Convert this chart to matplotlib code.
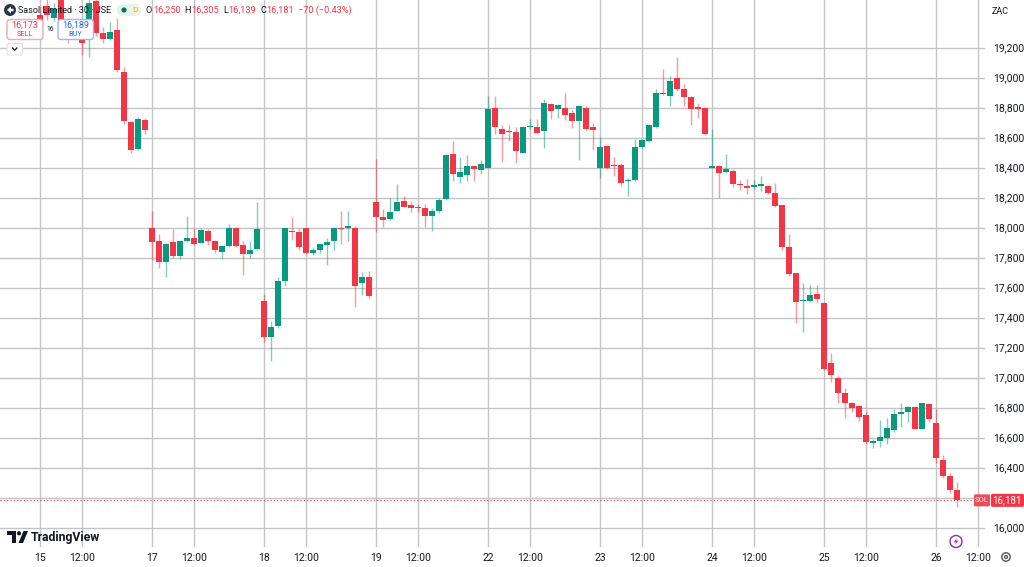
import numpy as np
import matplotlib
matplotlib.use("Agg")
import matplotlib.pyplot as plt
from matplotlib.patches import FancyBboxPatch, Circle, Polygon

plt.rcParams['font.family'] = ['Roboto', 'DejaVu Sans']

# ---------------- data ----------------
day_labels = ["15", "17", "18", "19", "22", "23", "24", "25", "26"]
intraday_label = "12:00"

opens = [
    # 15
    19420, 19480, 19400, 19530, 19340, 19280, 19256, 19250, 19507, 19300, 19258, 19318, 19040, 18702, 18524, 18718,
    # 17
    18000, 17907, 17771, 17902, 17811, 17911, 17933, 17900, 17980, 17911, 17840, 17876, 18000, 17884, 17824, 17860,
    # 18
    17507, 17269, 17344, 17644, 17980, 17973, 18000, 17833, 17847, 17884, 17913, 17998, 17998, 18000, 17627, 17671,
    # 19
    18173, 18067, 18056, 18111, 18178, 18149, 18140, 18129, 18078, 18107, 18189, 18491, 18340, 18351, 18407, 18384,
    # 22
    18400, 18800, 18656, 18644, 18636, 18500, 18671, 18673, 18644, 18824, 18789, 18796, 18762, 18707, 18800, 18667,
    # 23
    18400, 18544, 18413, 18418, 18311, 18318, 18536, 18580, 18669, 18896, 18880, 18996, 18922, 18867, 18802, 18796,
    # 24
    18400, 18411, 18369, 18376, 18293, 18278, 18267, 18280, 18276, 18227, 18149, 17871, 17700, 17507, 17509, 17560,
    # 25
    17500, 17100, 17000, 16900, 16831, 16811, 16749, 16564, 16576, 16598, 16653, 16756, 16771, 16804, 16660, 16822,
    # 26
    16700, 16449, 16342, 16250,
]
highs = [
    19480, 19530, 19500, 19560, 19360, 19350, 19384, 19530, 19530, 19340, 19373, 19396, 19073, 18710, 18736, 18729,
    18107, 17958, 17900, 17991, 17918, 18078, 17996, 18000, 17991, 17918, 17884, 18022, 18005, 17913, 17907, 18173,
    17558, 17378, 17667, 18000, 18073, 18000, 18000, 17873, 17893, 17929, 18000, 18107, 18107, 18007, 17702, 17709,
    18458, 18122, 18200, 18291, 18207, 18180, 18160, 18160, 18129, 18200, 18491, 18580, 18469, 18484, 18411, 18451,
    18878, 18878, 18684, 18684, 18667, 18680, 18722, 18722, 18860, 18833, 18822, 18896, 18784, 18818, 18811, 18700,
    18602, 18551, 18473, 18429, 18329, 18587, 18589, 18693, 18922, 19056, 19007, 19140, 18956, 18876, 18833, 18796,
    18658, 18416, 18489, 18389, 18320, 18322, 18320, 18342, 18284, 18300, 18149, 17956, 17700, 17633, 17616, 17616,
    17504, 17164, 17009, 16927, 16838, 16820, 16778, 16593, 16716, 16727, 16789, 16831, 16813, 16804, 16833, 16827,
    16789, 16482, 16364, 16305,
]
lows = [
    19350, 19384, 19380, 19330, 19229, 19250, 19151, 19136, 19280, 19229, 19250, 19040, 18691, 18496, 18518, 18622,
    17785, 17729, 17669, 17796, 17793, 17902, 17884, 17895, 17884, 17829, 17793, 17869, 17870, 17684, 17796, 17851,
    17240, 17113, 17329, 17607, 17918, 17851, 17822, 17818, 17829, 17747, 17851, 17891, 17913, 17469, 17551, 17527,
    17973, 18002, 18051, 18107, 18136, 18102, 18102, 18002, 17980, 18098, 18184, 18307, 18296, 18307, 18307, 18360,
    18396, 18622, 18440, 18578, 18429, 18496, 18660, 18629, 18529, 18724, 18729, 18718, 18662, 18451, 18651, 18518,
    18329, 18389, 18344, 18278, 18213, 18307, 18529, 18573, 18662, 18882, 18807, 18913, 18811, 18684, 18733, 18618,
    18400, 18200, 18364, 18267, 18249, 18222, 18256, 18242, 18222, 18138, 17853, 17676, 17364, 17304, 17504, 17498,
    17049, 16967, 16827, 16731, 16771, 16711, 16560, 16527, 16538, 16560, 16640, 16667, 16704, 16660, 16656, 16704,
    16431, 16333, 16227, 16139,
]
closes = [
    19380, 19420, 19460, 19340, 19280, 19320, 19233, 19500, 19296, 19258, 19302, 19047, 18713, 18518, 18724, 18651,
    17902, 17773, 17891, 17813, 17911, 17933, 17891, 17984, 17907, 17847, 17878, 18000, 17878, 17822, 17853, 17991,
    17269, 17340, 17644, 17996, 17969, 17873, 17829, 17847, 17889, 17902, 17996, 17989, 18007, 17613, 17671, 17544,
    18067, 18051, 18102, 18173, 18140, 18127, 18129, 18080, 18107, 18184, 18484, 18358, 18373, 18407, 18393, 18422,
    18791, 18667, 18624, 18636, 18511, 18669, 18675, 18633, 18829, 18780, 18818, 18751, 18707, 18811, 18658, 18647,
    18536, 18400, 18407, 18300, 18318, 18540, 18584, 18684, 18896, 18887, 18978, 18922, 18873, 18789, 18789, 18622,
    18409, 18364, 18389, 18287, 18284, 18264, 18284, 18287, 18231, 18144, 17871, 17689, 17504, 17518, 17553, 17522,
    17056, 17020, 16900, 16833, 16800, 16738, 16567, 16578, 16604, 16664, 16760, 16771, 16804, 16660, 16827, 16722,
    16464, 16342, 16249, 16181,
]
price_ticks = list(range(16000, 19201, 200))
last_price = 16181
ticker_tag = "SOL"
title_text = "Sasol Limited · 30 · JSE"
ohlc_parts = [("O", "16,250"), ("H", "16,305"), ("L", "16,139"), ("C", "16,181")]
change_text = "−70 (−0.43%)"
sell_price, buy_price, spread = "16,173", "16,189", "16"

# ---------------- style ----------------
UP = "#089981"
DOWN = "#F23645"
TXT = "#131722"
GRID = "#c4c4c4"
bars_per_day = 16
noon_offset = 6

W, H = 1024, 567
fig = plt.figure(figsize=(W / 100, H / 100), dpi=100)
fig.patch.set_facecolor("white")

plot_bottom_px = 547
plot_right_px = 985
ax = fig.add_axes([0, (H - plot_bottom_px) / H, plot_right_px / W, plot_bottom_px / H])
ax.set_facecolor("white")

o = np.array(opens, float)
h = np.array(highs, float)
l = np.array(lows, float)
c = np.array(closes, float)
x = np.arange(len(o))
up = c >= o
cols = np.where(up, UP, DOWN)

ax.vlines(x, l, h, colors=cols, linewidth=1.0, alpha=0.5, zorder=2)
bottoms = np.minimum(o, c)
heights = np.maximum(np.abs(c - o), 8)
ax.bar(x, heights, bottom=bottoms, width=0.72, color=cols, linewidth=0, zorder=3)

ax.set_xlim(-40 / 7, 945 / 7)
ax.set_ylim(15870, 19517)

day_pos = [i * bars_per_day for i in range(len(day_labels))]
xt, xl = [], []
for d, lab in zip(day_pos, day_labels):
    xt += [d, d + noon_offset]
    xl += [lab, intraday_label]
ax.set_xticks(xt)
ax.set_xticklabels(xl)
ax.set_yticks(price_ticks)
ax.set_yticklabels([f"{v:,}" for v in price_ticks])
ax.yaxis.tick_right()
ax.tick_params(axis="x", length=0, pad=4, labelsize=7.5, colors=TXT)
ax.tick_params(axis="y", length=0, pad=6, labelsize=7.5, colors=TXT)
for lab in ax.get_yticklabels():
    lab.set_horizontalalignment("left")
ax.grid(True, color=GRID, linewidth=1.0, zorder=0)
ax.set_axisbelow(True)
for s in ax.spines.values():
    s.set_visible(False)

ax.axhline(last_price, color=DOWN, linewidth=0.8, linestyle=(0, (1, 2)), zorder=4)

# ---------------- overlay (pixel coords) ----------------
ov = fig.add_axes([0, 0, 1, 1], zorder=5)
ov.set_xlim(0, W)
ov.set_ylim(H, 0)
ov.axis("off")
ov.patch.set_alpha(0)

renderer = fig.canvas.get_renderer()


def fit_text(xp, yp, s, target_w, size, **kw):
    t = ov.text(xp, yp, s, fontsize=size, **kw)
    w = t.get_window_extent(renderer).width
    if w > 0:
        t.set_fontsize(size * target_w / w)
    return t


def width_of(t):
    return t.get_window_extent(renderer).width


# price tag
ly = 527.5 - (last_price - 16000) * 30 / 200
ov.add_patch(FancyBboxPatch((974, ly - 6), 16, 12, boxstyle="round,pad=0,rounding_size=1.5",
                            fc="#f04a59", ec="none"))
ov.add_patch(FancyBboxPatch((991, ly - 6.5), 33, 13, boxstyle="round,pad=0,rounding_size=1.5",
                            fc=DOWN, ec="none"))
ov.text(982, ly, ticker_tag, color="white", fontsize=5.5, ha="center", va="center")
ov.text(1007, ly, f"{last_price:,}", color="white", fontsize=7, ha="center", va="center")

ov.text(1000, 11, "ZAC", color=TXT, fontsize=6.5, ha="center", va="center")

# header
ov.add_patch(Circle((10, 10), 6, fc="#2a3550", ec="none"))
ov.add_patch(Polygon([(7, 10), (11, 6.5), (11, 8.8), (13.5, 8.8), (13.5, 11.2), (11, 11.2), (11, 13.5)],
                     closed=True, fc="white", ec="none"))
fit_text(18, 10.5, title_text, 94, 8, color=TXT, ha="left", va="center")
ov.add_patch(FancyBboxPatch((117, 4), 24, 12, boxstyle="round,pad=0,rounding_size=6",
                            fc="#e3f3ef", ec="none"))
ov.add_patch(Circle((124, 10), 2.6, fc="#0b6e5a", ec="none"))
ov.add_patch(Circle((135, 10), 4.5, fc="#fff3dc", ec="none"))
ov.text(135, 10.5, "D", color="#f7a325", fontsize=6, ha="center", va="center")

hx = 146.0
hsize = 6.6
for letter, val in ohlc_parts:
    t1 = ov.text(hx, 10.5, letter, color=TXT, fontsize=hsize, ha="left", va="center")
    hx += width_of(t1) + 0.6
    t2 = ov.text(hx, 10.5, val, color=DOWN, fontsize=hsize, ha="left", va="center")
    hx += width_of(t2) + 4.0
ov.text(hx, 10.5, change_text, color=DOWN, fontsize=hsize, ha="left", va="center")

# sell / buy boxes
ov.add_patch(FancyBboxPatch((7, 19.5), 36, 20, boxstyle="round,pad=0,rounding_size=3",
                            fc="white", ec="#f7a7ae", lw=1))
ov.text(25, 25.5, sell_price, color=DOWN, fontsize=6.5, ha="center", va="center")
ov.text(25, 34, "SELL", color=DOWN, fontsize=5.3, ha="center", va="center")
ov.text(50, 29.5, spread, color=TXT, fontsize=4.8, ha="center", va="center")
ov.add_patch(FancyBboxPatch((58, 19.5), 35.5, 20, boxstyle="round,pad=0,rounding_size=3",
                            fc="white", ec="#9db5ff", lw=1))
ov.text(75.7, 25.5, buy_price, color="#2962FF", fontsize=6.5, ha="center", va="center")
ov.text(75.7, 34, "BUY", color="#2962FF", fontsize=5.3, ha="center", va="center")
ov.add_patch(FancyBboxPatch((7, 43.5), 15.5, 11.5, boxstyle="round,pad=0,rounding_size=2",
                            fc="white", ec="#e0e3eb", lw=0.8))
ov.plot([12.5, 14.7, 16.9], [48, 50.2, 48], color=TXT, lw=0.9)

# TradingView logo
ov.add_patch(Polygon([(7, 531), (15.5, 531), (15.5, 543), (11.5, 543), (11.5, 535), (7, 535)],
                     closed=True, fc=TXT, ec="none"))
ov.add_patch(Circle((19, 533.3), 2.1, fc=TXT, ec="none"))
ov.add_patch(Polygon([(18.5, 543), (23.5, 531), (28, 531), (23, 543)], closed=True, fc=TXT, ec="none"))
fit_text(30.5, 537, "TradingView", 70, 10, color=TXT, fontweight="bold", ha="left", va="center")

# lightning icon
ov.add_patch(Circle((956, 541.5), 6, fc="white", ec="#9c27b0", lw=1))
ov.add_patch(Polygon([(957.5, 537.5), (953.8, 542.3), (956.2, 542.3), (954.6, 545.6),
                      (958.3, 540.7), (955.9, 540.7)], closed=True, fc="#9c27b0", ec="none"))

# gear icon
ov.add_patch(Circle((1006, 557), 4.2, fc="none", ec="#50535e", lw=1))
ov.add_patch(Circle((1006, 557), 1.5, fc="none", ec="#50535e", lw=0.9))

fig.savefig("out.png", dpi=100, facecolor="white")
